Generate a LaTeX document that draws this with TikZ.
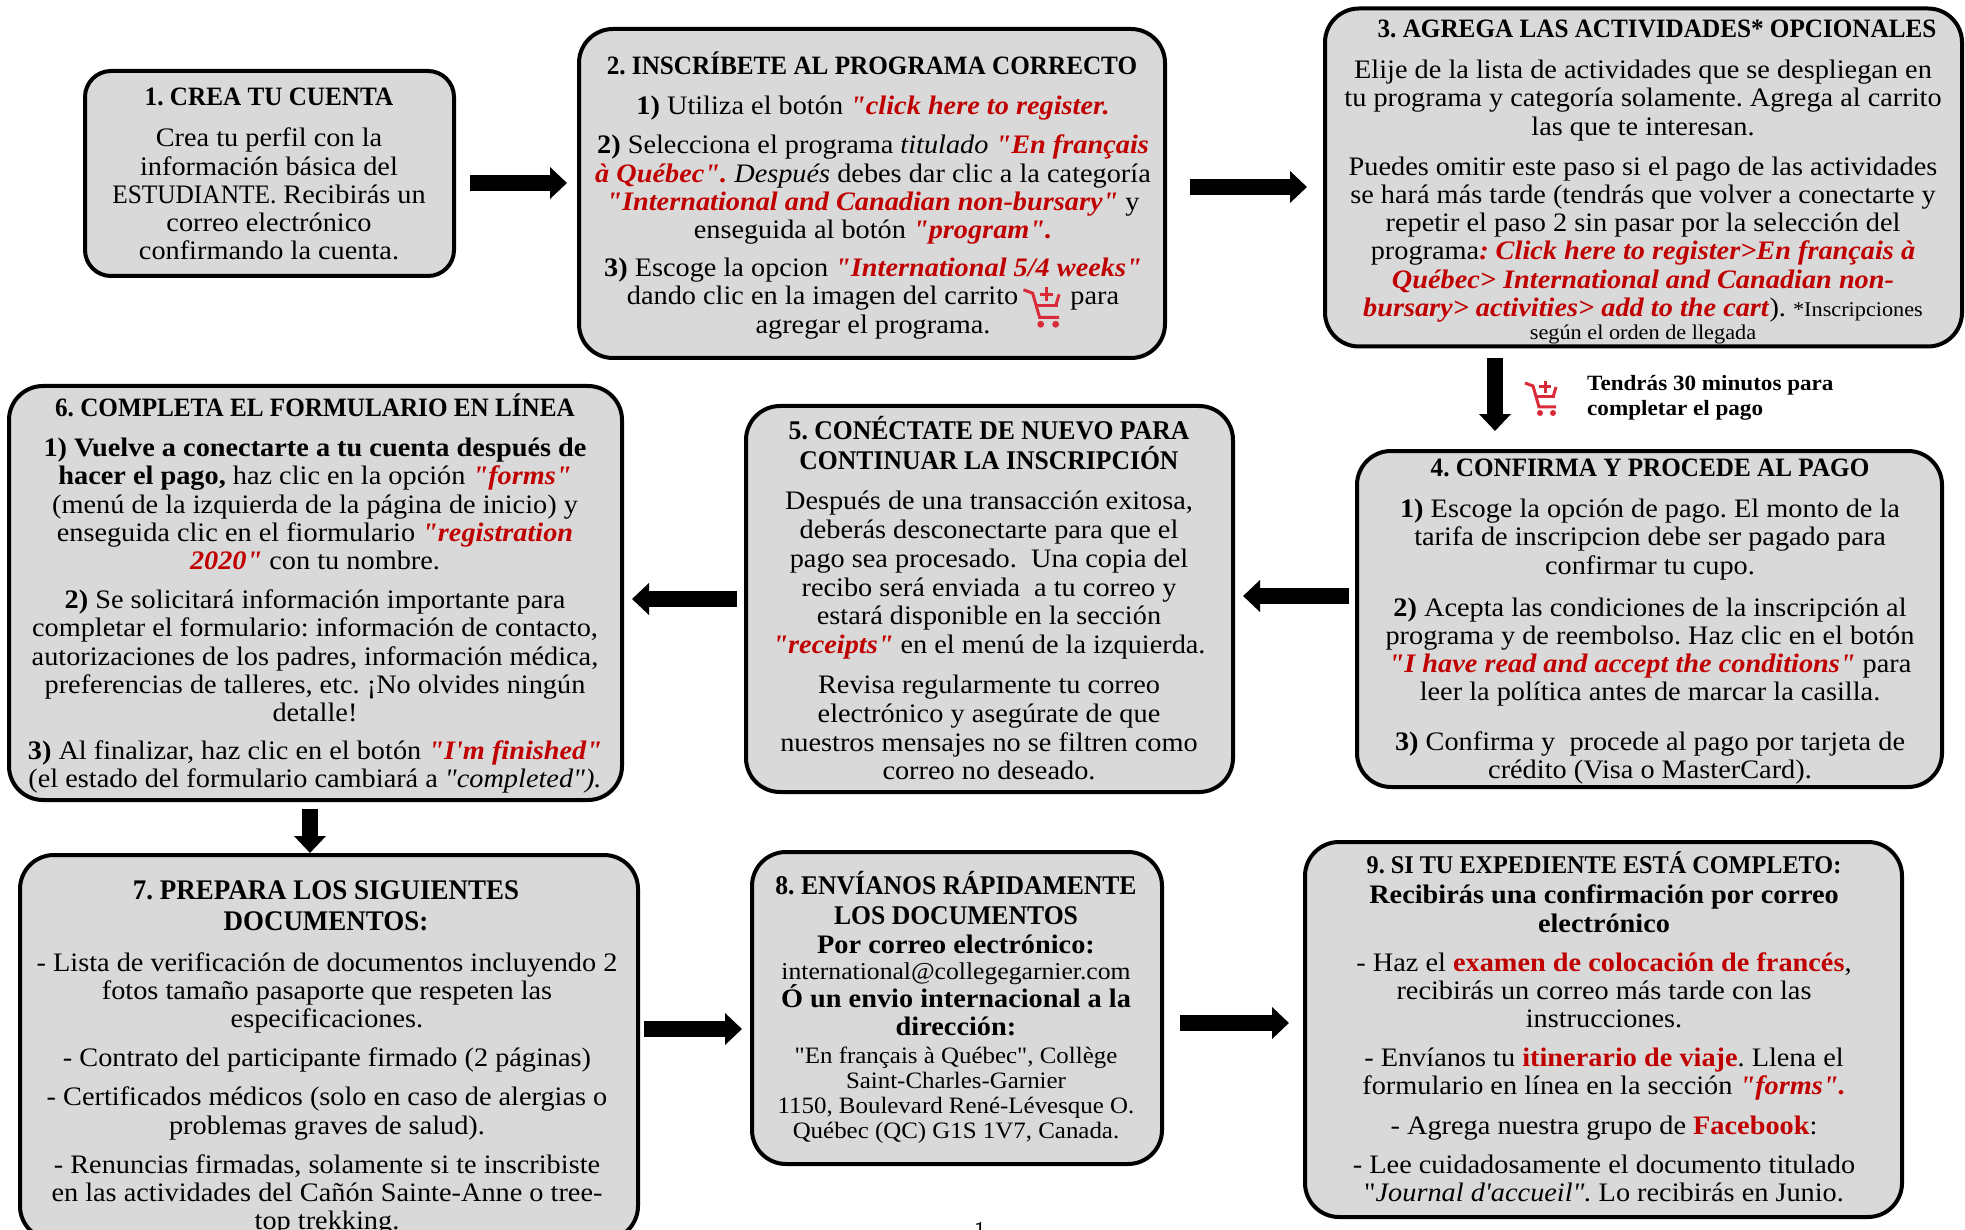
\documentclass[tikz,border=0pt]{standalone}
\usepackage{fontspec}
\setmainfont[FakeStretch=1.06,Ligatures=TeXOff]{Liberation Serif}
\newfontfamily\ttlfont[FakeStretch=0.95]{Liberation Serif}
\usetikzlibrary{arrows.meta}
\frenchspacing
\definecolor{boxgray}{HTML}{D9D9D9}
\definecolor{rojo}{HTML}{C00000}
\definecolor{cartred}{HTML}{D92B3A}
\newcommand{\rd}[1]{\textcolor{rojo}{\textbf{\textit{#1}}}}
\newcommand{\rb}[1]{\textcolor{rojo}{\textbf{#1}}}
\newcommand{\gap}[1]{\\[#1pt]}
\tikzset{
  x=1pt,y=-1pt,
  boxs/.style={draw=black,line width=4pt,fill=boxgray,rounded corners=34pt,inner sep=0pt},
  txt/.style={align=center,anchor=north,inner sep=0pt,font=\fontsize{26.7}{28.2}\selectfont},
  ttl/.style={align=center,anchor=north,inner sep=0pt,font=\ttlfont\fontsize{26.5}{30}\selectfont\bfseries},
  conn/.style={line width=16pt,-{Triangle[length=17pt,width=31pt]}},
  cart/.pic={
    \draw[cartred,line width=3pt] (-17,-15) -- (-9,-12) -- (-3,9) -- (14,9);
    \draw[cartred,line width=3pt] (-6,-1) -- (13,-1);
    \draw[cartred,line width=3pt] (14,-11) -- (11,-1);
    \draw[cartred,line width=3pt] (3,-17) -- (3,-5) (-3,-11) -- (9,-11);
    \fill[cartred] (-2,15) circle (3pt) (11,15) circle (3pt);
  }
}
\begin{document}
\begin{tikzpicture}
\useasboundingbox (0,0) rectangle (1965,1230);
\clip (0,0) rectangle (1965,1230);
% boxes
\node[boxs,rounded corners=26pt,minimum width=369pt,minimum height=205pt] (b1) at (269.5,173.5) {};
\node[boxs,minimum width=586pt,minimum height=329pt] (b2) at (872,193.5) {};
\node[boxs,minimum width=637pt,minimum height=338pt] (b3) at (1643.5,177.5) {};
\node[boxs,minimum width=585pt,minimum height=336pt] (b4) at (1649.5,619) {};
\node[boxs,minimum width=487pt,minimum height=386pt] (b5) at (989.5,599) {};
\node[boxs,minimum width=613pt,minimum height=414pt] (b6) at (315.5,593) {};
\node[boxs,minimum width=618pt,minimum height=385pt] (b7) at (329,1047.5) {};
\node[boxs,minimum width=410pt,minimum height=312pt] (b8) at (957,1008) {};
\node[boxs,minimum width=597pt,minimum height=375pt] (b9) at (1603.5,1029.5) {};
% connectors
\draw[conn,shorten <=14pt,shorten >=10pt] ([yshift=-9.5pt]b1.east) -- ([yshift=10.5pt]b2.west);
\draw[conn,shorten <=23pt,shorten >=16pt] ([yshift=6.5pt]b2.east) -- ([yshift=-9.5pt]b3.west);
\draw[conn,shorten <=10pt,shorten >=18pt] ([xshift=-148.5pt]b3.south) -- ([xshift=-154.5pt]b4.north);
\draw[conn,shorten <=6pt,shorten >=8pt] ([yshift=23pt]b4.west) -- ([yshift=3pt]b5.east);
\draw[conn,shorten <=7pt,shorten >=8pt] (b5.west) -- ([yshift=-6pt]b6.east);
\draw[conn,shorten <=7pt,shorten >=0pt] ([xshift=-5.5pt]b6.south) -- ([xshift=-19pt]b7.north);
\draw[conn,shorten <=4pt,shorten >=8pt] ([yshift=18.5pt]b7.east) -- ([yshift=-21pt]b8.west);
\draw[conn,shorten <=16pt,shorten >=14pt] ([yshift=-15pt]b8.east) -- ([yshift=6.5pt]b9.west);
% text box 1
\node[ttl] (t1a) at (269,88) {1. CREA TU CUENTA};
\node[txt] (t1) at (269,128) {Crea tu perfil con la\\información básica del\\{\ttlfont ESTUDIANTE.} Recibirás un\\correo electrónico\\confirmando la cuenta.};
% text box 2
\node[ttl] (t2a) at (872,52) {2. INSCRÍBETE AL PROGRAMA CORRECTO};
\node[txt] (t2) at (873,96) {\textbf{1)} Utiliza el botón \rd{"click here to register.}\gap{11}
\textbf{2)} Selecciona el programa \textit{titulado} \rd{"En français}\\
\rd{à Québec".} \textit{Después} debes dar clic a la categoría\\
\rd{"International and Canadian non-bursary"} y\\
enseguida al botón \rd{"program".}\gap{10}
\textbf{3)} Escoge la opcion \rd{"International 5/4 weeks"}\\
dando clic en la imagen del carrito \hspace{38pt} para\\
agregar el programa.};
\pic[scale=1.15] at (1043,307) {cart};
% text box 3
\node[ttl] (t3a) at (1657,20) {3. AGREGA LAS ACTIVIDADES* OPCIONALES};
\node[txt] (t3) at (1643,60) {Elije de la lista de actividades que se despliegan en\\
tu programa y categoría solamente. Agrega al carrito\\
las que te interesan.\gap{12}
Puedes omitir este paso si el pago de las actividades\\
se hará más tarde (tendrás que volver a conectarte y\\
repetir el paso 2 sin pasar por la selección del\\
programa\rd{: Click here to register>En français à}\\
\rd{Québec> International and Canadian non-}\\
\rd{bursary> activities> add to the cart}). {\fontsize{21}{24}\selectfont *Inscripciones}\\[-5pt]
{\fontsize{21}{24}\selectfont según el orden de llegada}};
% note
\pic at (1542,398) {cart};
\node[anchor=west,align=left,inner sep=0pt,font=\fontsize{21.8}{25}\selectfont\bfseries] (nota) at (1587,398) {Tendrás 30 minutos para\\completar el pago};
% text box 4
\node[ttl] (t4a) at (1650,459) {4. CONFIRMA Y PROCEDE AL PAGO};
\node[txt] (t4) at (1650,499) {\textbf{1)} Escoge la opción de pago. El monto de la\\
tarifa de inscripcion debe ser pagado para\\
confirmar tu cupo.\gap{14}
\textbf{2)} Acepta las condiciones de la inscripción al\\
programa y de reembolso. Haz clic en el botón\\
\rd{"I have read and accept the conditions"} para\\
leer la política antes de marcar la casilla.\gap{21}
\textbf{3)} Confirma y\ \ procede al pago por tarjeta de\\
crédito (Visa o MasterCard).};
% text box 5
\node[ttl,font=\ttlfont\fontsize{27}{30}\selectfont\bfseries] (t5a) at (989,416) {5. CONÉCTATE DE NUEVO PARA\\CONTINUAR LA INSCRIPCIÓN};
\node[txt,font=\fontsize{26.7}{28.8}\selectfont] (t5) at (989,491) {Después de una transacción exitosa,\\
deberás desconectarte para que el\\
pago sea procesado.\ \ Una copia del\\
recibo será enviada\ \ a tu correo y\\
estará disponible en la sección\\
\rd{"receipts"} en el menú de la izquierda.\gap{11}
Revisa regularmente tu correo\\
electrónico y asegúrate de que\\
nuestros mensajes no se filtren como\\
correo no deseado.};
% text box 6
\node[ttl] (t6a) at (315,394) {6. COMPLETA EL FORMULARIO EN LÍNEA};
\node[txt] (t6) at (315,438) {\textbf{1) Vuelve a conectarte a tu cuenta después de}\\
\textbf{hacer el pago,} haz clic en la opción \rd{"forms"}\\
(menú de la izquierda de la página de inicio) y\\
enseguida clic en el fiormulario \rd{"registration}\\
\rd{2020"} con tu nombre.\gap{11}
\textbf{2)} Se solicitará información importante para\\
completar el formulario: información de contacto,\\
autorizaciones de los padres, información médica,\\
preferencias de talleres, etc. ¡No olvides ningún\\
detalle!\gap{10}
\textbf{3)} Al finalizar, haz clic en el botón \rd{"I'm finished"}\\
(el estado del formulario cambiará a \textit{"completed").}};
% text box 7
\node[ttl,font=\ttlfont\fontsize{28.4}{31}\selectfont\bfseries] (t7a) at (326,880) {7. PREPARA LOS SIGUIENTES\\DOCUMENTOS:};
\node[txt] (t7) at (327,952) {- Lista de verificación de documentos incluyendo 2\\
fotos tamaño pasaporte que respeten las\\
especificaciones.\gap{11}
- Contrato del participante firmado (2 páginas)\gap{11}
- Certificados médicos (solo en caso de alergias o\\
problemas graves de salud).\gap{11}
- Renuncias firmadas, solamente si te inscribiste\\
en las actividades del Cañón Sainte-Anne o tree-\\
top trekking.};
% text box 8
\node[ttl,font=\ttlfont\fontsize{27}{30}\selectfont\bfseries] (t8a) at (956,871) {8. ENVÍANOS RÁPIDAMENTE\\LOS DOCUMENTOS};
\node[txt,font=\fontsize{26.7}{28}\selectfont\bfseries] (t8e) at (956,935) {Por correo electrónico:};
\node[txt,font=\fontsize{24.2}{26}\selectfont] (t8b) at (956,963) {international@collegegarnier.com};
\node[txt,font=\fontsize{26.7}{28}\selectfont\bfseries] (t8c) at (956,984) {Ó un envio internacional a la\\dirección:};
\node[txt,font=\fontsize{23.5}{25}\selectfont] (t8d) at (956,1047) {"En français à Québec", Collège\\Saint-Charles-Garnier\\1150, Boulevard René-Lévesque O.\\Québec (QC) G1S 1V7, Canada.};
% text box 9
\node[ttl,font=\ttlfont\fontsize{25.5}{29}\selectfont\bfseries] (t9a) at (1604,851) {9. SI TU EXPEDIENTE ESTÁ COMPLETO:};
\node[txt,font=\fontsize{26.7}{29}\selectfont\bfseries] (t9b) at (1604,884) {Recibirás una confirmación por correo\\electrónico};
\node[txt] (t9) at (1604,952) {- Haz el \rb{examen de colocación de francés},\\
recibirás un correo más tarde con las\\
instrucciones.\gap{11}
- Envíanos tu \rb{itinerario de viaje}. Llena el\\
formulario en línea en la sección \rd{"forms".}\gap{11}
- Agrega nuestra grupo de \rb{Facebook}:\gap{11}
- Lee cuidadosamente el documento titulado\\
"\textit{Journal d'accueil".} Lo recibirás en Junio.};
\node[anchor=center,inner sep=0pt,font=\fontsize{24}{24}\selectfont\sffamily] (pg) at (980,1230) {1};
\end{tikzpicture}
\end{document}
